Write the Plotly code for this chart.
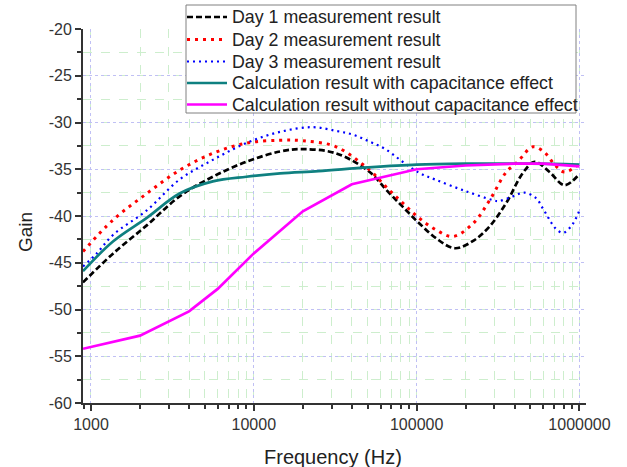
import plotly.graph_objects as go

# ---- data ----
day1_f = [893, 1370, 2200, 3500, 5600, 9000, 14500, 20000, 32000, 51500, 65000, 82000, 104000,
          132000, 172000, 225000, 281000, 355000, 449000, 530000, 655000, 809000, 1000000]
day1_g = [-47.1, -44.0, -41.0, -37.9, -35.8, -34.2, -33.1, -32.85, -33.3, -35.3, -37.2, -39.0, -40.8,
          -42.4, -43.45, -42.6, -41.1, -38.6, -35.4, -34.2, -35.3, -36.7, -35.5]

day2_f = [893, 1370, 2200, 3500, 5600, 9000, 14500, 20000, 32000, 51500, 65000, 82000, 104000,
          132000, 167000, 222000, 281000, 355000, 417000, 517000, 610000, 703000, 809000, 1000000]
day2_g = [-43.8, -40.4, -37.6, -35.1, -33.3, -32.2, -31.9, -31.95, -32.6, -35.1, -36.9, -38.6, -40.25,
          -41.5, -42.2, -40.8, -38.3, -35.3, -34.2, -32.6, -33.2, -34.5, -35.3, -34.4]

day3_f = [893, 1084, 1370, 2200, 3500, 5600, 9000, 14500, 23000, 32000, 40600, 51500, 65000, 82000,
          104000, 132000, 197000, 294000, 320000, 390000, 460000, 542000, 596000, 655000, 710000,
          790000, 889000, 1000000]
day3_g = [-45.4, -44.0, -42.0, -39.4, -36.1, -34.0, -32.2, -31.0, -30.5, -30.9, -31.3, -32.05, -32.9,
          -34.2, -35.4, -36.15, -37.3, -38.3, -38.4, -37.9, -37.5, -38.1, -39.2, -40.4, -41.3,
          -41.8, -41.1, -39.4]

calc_cap_f = [893, 1370, 2200, 3500, 5600, 9000, 14500, 25000, 50000, 100000, 200000, 500000, 1000000]
calc_cap_g = [-45.9, -42.7, -40.2, -37.6, -36.3, -35.8, -35.45, -35.2, -34.8, -34.5, -34.4, -34.4, -34.5]

calc_nocap_f = [893, 2000, 4000, 6000, 10000, 20000, 40000, 100000, 200000, 400000, 600000, 800000, 1000000]
calc_nocap_g = [-54.2, -52.8, -50.2, -47.8, -44.0, -39.5, -36.6, -35.0, -34.6, -34.4, -34.4, -34.6, -34.7]

names = ["Day 1 measurement result", "Day 2 measurement result", "Day 3 measurement result",
         "Calculation result with capacitance effect", "Calculation result without capacitance effect"]

x_ticks = [1000, 10000, 100000, 1000000]
x_ticklabels = ["1000", "10000", "100000", "1000000"]
y_ticks = [-60, -55, -50, -45, -40, -35, -30, -25, -20]
y_ticklabels = ["-60", "-55", "-50", "-45", "-40", "-35", "-30", "-25", "-20"]

FONT = "Liberation Sans, Arial, sans-serif"

# plot-area geometry (pixels) used to place the legend box, which sits partly above the plot
W, H = 627, 467
L, R, T, B = 83, 41, 29, 64
PW, PH = W - L - R, H - T - B


def px(x):
    return (x - L) / PW


def py(y):
    return (H - B - y) / PH


styles = [
    dict(color="black", width=2.7, dash="6px,3px"),
    dict(color="red", width=3, dash="3px,5px"),
    dict(color="blue", width=2.2, dash="2px,4px"),
    dict(color="#0f8080", width=2.7),
    dict(color="#ff00ff", width=2.7),
]
series = [(day1_f, day1_g, "spline"), (day2_f, day2_g, "spline"), (day3_f, day3_g, "spline"),
          (calc_cap_f, calc_cap_g, "spline"), (calc_nocap_f, calc_nocap_g, "linear")]

fig = go.Figure()
for (xs, ys, shp), nm, st in zip(series, names, styles):
    fig.add_trace(go.Scatter(x=xs, y=ys, name=nm, mode="lines", line_shape=shp, line=st,
                             showlegend=False))

# legend (drawn as a box with sample lines and labels)
shapes = [dict(type="rect", xref="paper", yref="paper", x0=px(186), x1=px(576), y0=py(113), y1=py(5),
               line=dict(color="#808080", width=1), fillcolor="white", layer="above")]
annotations = []
row_y = [17, 39.5, 61.5, 83, 104.5]
for nm, st, ry in zip(names, styles, row_y):
    shapes.append(dict(type="line", xref="paper", yref="paper", x0=px(187), x1=px(227),
                       y0=py(ry), y1=py(ry), layer="above",
                       line=dict(color=st["color"], width=st["width"], dash=st.get("dash", "solid"))))
    annotations.append(dict(text=nm, xref="paper", yref="paper", x=px(230), y=py(ry),
                            xanchor="left", yanchor="middle", showarrow=False,
                            font=dict(family=FONT, size=17.8, color="#222222")))

annotations += [
    dict(text="Gain", xref="paper", yref="paper", x=px(26), y=py(232),
         xanchor="center", yanchor="middle", textangle=-90, showarrow=False,
         font=dict(family=FONT, size=19, color="#222222")),
    dict(text="Frequency (Hz)", xref="paper", yref="paper", x=px(333), y=py(457),
         xanchor="center", yanchor="middle", showarrow=False,
         font=dict(family=FONT, size=20, color="#222222")),
]

fig.update_layout(
    width=W, height=H,
    margin=dict(l=L, r=R, t=T, b=B, autoexpand=False),
    paper_bgcolor="white", plot_bgcolor="white",
    font=dict(family=FONT, size=15, color="#333333"),
    showlegend=False,
    shapes=shapes,
    annotations=annotations,
)

fig.update_xaxes(
    type="log", range=[2.951, 6.04],
    tickmode="array", tickvals=x_ticks, ticktext=x_ticklabels,
    ticks="outside", ticklen=6, tickwidth=1.5, tickcolor="#333333",
    showline=True, linecolor="#333333", linewidth=2,
    showgrid=True, gridcolor="#c0c0f4", griddash="dot", gridwidth=1,
    minor=dict(dtick="D1", ticks="outside", ticklen=4, tickwidth=1.5, tickcolor="#333333",
               showgrid=True, gridcolor="#cdeecd", griddash="dash", gridwidth=1),
    zeroline=False, mirror=False,
    tickfont=dict(size=16, color="#333333"),
)
fig.update_yaxes(
    range=[-60, -20],
    tickmode="array", tickvals=y_ticks, ticktext=y_ticklabels,
    ticks="outside", ticklen=6, tickwidth=1.5, tickcolor="#333333",
    showline=True, linecolor="#333333", linewidth=2,
    showgrid=True, gridcolor="#c0c0f4", griddash="dot", gridwidth=1,
    minor=dict(dtick=2.5, ticks="outside", ticklen=4, tickwidth=1.5, tickcolor="#333333",
               showgrid=True, gridcolor="#cdeecd", griddash="dash", gridwidth=1),
    zeroline=False, mirror=False,
    tickfont=dict(size=16, color="#333333"),
)

fig.write_html("out.html", config={"displayModeBar": False},
               post_script="document.body.style.margin='0';")
